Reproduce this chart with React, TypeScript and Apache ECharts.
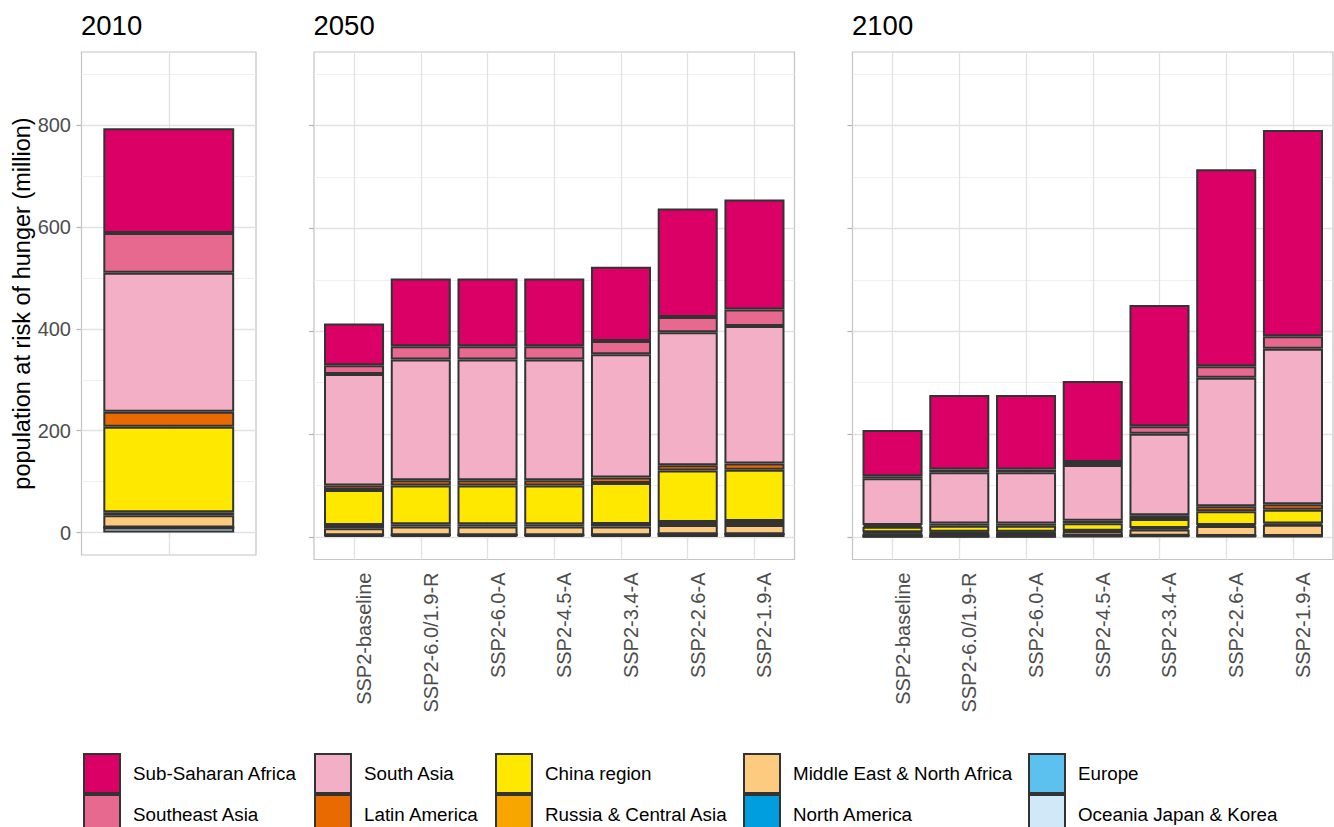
import React, { useEffect, useRef } from "react";
import * as echarts from "echarts";

// Regions in legend order (top of each stack first)
const regions = [
  "Sub-Saharan Africa",
  "Southeast Asia",
  "South Asia",
  "Latin America",
  "China region",
  "Russia & Central Asia",
  "Middle East & North Africa",
  "North America",
  "Europe",
  "Oceania Japan & Korea",
];
const regionColors = [
  "#DB0066",
  "#E8698F",
  "#F2AFC5",
  "#E86A00",
  "#FFE800",
  "#F7A600",
  "#FDCB80",
  "#009EDF",
  "#5CC1EE",
  "#D0E8F7",
];

const scenarios = [
  "SSP2-baseline",
  "SSP2-6.0/1.9-R",
  "SSP2-6.0-A",
  "SSP2-4.5-A",
  "SSP2-3.4-A",
  "SSP2-2.6-A",
  "SSP2-1.9-A",
];
const panelTitles = ["2010", "2050", "2100"];
const yMajorTicks = [0, 200, 400, 600, 800];
const yMinorTicks = [100, 300, 500, 700, 900];

// population at risk of hunger (million), 2010, in region order
const hunger2010 = [206, 78, 273, 29, 168, 6, 24, 0, 0, 10];

// 2050, one value per scenario
const ssa2050 = [81, 132, 132, 132, 144.5, 211, 214];
const sea2050 = [17, 26, 26, 26, 25.5, 30, 32];
const sa2050 = [217, 235, 235, 235, 240, 258.5, 267.5];
const la2050 = [9, 10, 10, 10, 10.5, 10.5, 12.5];
const china2050 = [68, 75.5, 75.5, 75.5, 80, 100, 99.5];
const russia2050 = [6, 4.5, 4.5, 4.5, 5, 6, 8];
const mena2050 = [14, 17, 17, 17, 17, 18, 18];
const nam2050 = [0, 0, 0, 0, 0, 0, 0];
const europe2050 = [0, 0, 0, 0, 0, 0, 0];
const ojk2050 = [3, 3, 3, 3, 3, 5, 5];

// 2100, one value per scenario
const ssa2100 = [90, 145, 145, 158, 235.5, 383.5, 401];
const sea2100 = [4, 5, 5, 5.5, 15, 22.5, 24.5];
const sa2100 = [91, 100, 100, 108.5, 158.5, 250, 302.5];
const la2100 = [3.5, 4.5, 4.5, 5, 7, 9.5, 10.5];
const china2100 = [10.5, 11.5, 11.5, 14.5, 17.5, 27, 27];
const russia2100 = [2, 1.5, 1.5, 1.5, 3, 2, 2.5];
const mena2100 = [6, 7.5, 7.5, 9, 12.5, 19.5, 22];
const nam2100 = [0, 0, 0, 0, 0, 0, 0];
const europe2100 = [0, 0, 0, 0, 0, 0, 0];
const ojk2100 = [1, 1, 1, 1.5, 2, 1.5, 1.5];

const FONT = "'Liberation Sans', Arial, Helvetica, sans-serif";

export default function App() {
  const ref = useRef<HTMLDivElement>(null);

  useEffect(() => {
    if (!ref.current) return;
    const chart = echarts.init(ref.current, null, { renderer: "svg" });

    const panelValues: number[][][] = [
      hunger2010.map((v) => [v]),
      [ssa2050, sea2050, sa2050, la2050, china2050, russia2050, mena2050, nam2050, europe2050, ojk2050],
      [ssa2100, sea2100, sa2100, la2100, china2100, russia2100, mena2100, nam2100, europe2100, ojk2100],
    ];
    const panelCategories = [["2010"], scenarios, scenarios];

    // panel boxes in px
    const panels = [
      { left: 81.5, right: 256, top: 52, bottom: 555 },
      { left: 314, right: 794.5, top: 52, bottom: 559.5 },
      { left: 852.5, right: 1333, top: 52, bottom: 559.5 },
    ];
    const yMin = -44;
    const yMax = 943.5;

    const gridColor = "#e2e2e2";
    const tickColor = "#b3b3b3";
    const textGrey = "#4d4d4d";

    const grids: any[] = [];
    const xAxes: any[] = [];
    const yAxes: any[] = [];
    const series: any[] = [];

    panels.forEach((p, pi) => {
      const cats = panelCategories[pi];
      const n = cats.length;
      const w = p.right - p.left;
      // discrete scale: 0.6 category units of padding at each end
      const unit = w / (n + 0.2);
      const outer = pi * 2;
      const inner = pi * 2 + 1;

      // outer frame: border, horizontal grid lines, y ticks and labels
      grids.push({
        left: p.left,
        top: p.top,
        width: w,
        height: p.bottom - p.top,
        show: true,
        borderColor: "#c4c4c4",
        borderWidth: 1.2,
        backgroundColor: "rgba(0,0,0,0)",
      });
      // inner area holding the bars, one band per category
      grids.push({
        left: p.left + unit * 0.1,
        top: p.top,
        width: w - unit * 0.2,
        height: p.bottom - p.top,
        show: false,
      });

      xAxes.push({
        type: "value",
        gridIndex: outer,
        min: 0,
        max: 1,
        show: false,
      });
      xAxes.push({
        type: "category",
        gridIndex: inner,
        data: cats,
        boundaryGap: true,
        axisLine: { show: false },
        splitLine: { show: false },
        axisTick: {
          show: true,
          alignWithLabel: true,
          interval: 0,
          length: 5,
          lineStyle: { color: tickColor, width: 1.2 },
        },
        axisLabel: {
          show: pi > 0,
          interval: 0,
          rotate: 90,
          margin: 13,
          verticalAlign: "top",
          lineHeight: 20,
          color: textGrey,
          fontSize: 20,
          fontFamily: FONT,
        },
      });

      yAxes.push({
        type: "value",
        gridIndex: outer,
        min: yMin,
        max: yMax,
        axisLine: { show: false },
        splitLine: { show: false },
        axisTick: {
          show: true,
          length: 5,
          customValues: yMajorTicks,
          lineStyle: { color: tickColor, width: 1.2 },
        },
        axisLabel: {
          show: pi === 0,
          customValues: yMajorTicks,
          color: textGrey,
          fontSize: 20,
          margin: 10.5,
          fontFamily: FONT,
        },
        name: pi === 0 ? "population at risk of hunger (million)" : "",
        nameLocation: "middle",
        nameGap: 47,
        nameTextStyle: { fontSize: 23.5, color: "#000", fontFamily: FONT },
      });
      yAxes.push({
        type: "value",
        gridIndex: inner,
        min: yMin,
        max: yMax,
        show: false,
      });

      // horizontal grid lines across the whole panel
      const hLines: any[] = [];
      yMinorTicks.forEach((v) =>
        hLines.push({ yAxis: v, lineStyle: { color: "#ebebeb", width: 0.8, type: "solid" } })
      );
      yMajorTicks.forEach((v) =>
        hLines.push({ yAxis: v, lineStyle: { color: gridColor, width: 1.3, type: "solid" } })
      );
      series.push({
        type: "line",
        name: "grid" + pi,
        xAxisIndex: outer,
        yAxisIndex: outer,
        data: [],
        silent: true,
        markLine: {
          silent: true,
          symbol: "none",
          z: 1,
          label: { show: false },
          emphasis: { disabled: true },
          data: hLines,
        },
      });

      // stacked bars, bottom of the stack first
      for (let r = regions.length - 1; r >= 0; r--) {
        const s: any = {
          type: "bar",
          name: regions[r],
          xAxisIndex: inner,
          yAxisIndex: inner,
          stack: "panel" + pi,
          barWidth: "90%",
          itemStyle: { color: regionColors[r], borderColor: "#333333", borderWidth: 2 },
          emphasis: { disabled: true },
          data: panelValues[pi][r],
        };
        if (r === regions.length - 1) {
          s.markLine = {
            silent: true,
            symbol: "none",
            z: 1,
            label: { show: false },
            emphasis: { disabled: true },
            data: cats.map((_, i) => ({
              xAxis: i,
              lineStyle: { color: gridColor, width: 1.3, type: "solid" },
            })),
          };
        }
        series.push(s);
      }
    });

    const titles = panels.map((p, pi) => ({
      text: panelTitles[pi],
      left: p.left - 0.5,
      top: 11,
      padding: 0,
      textStyle: { fontSize: 27.5, fontWeight: "normal", color: "#000", fontFamily: FONT },
    }));

    // legend laid out in five columns of two keys each
    const legendLefts = [83, 314, 495, 743, 1028];
    const legends = legendLefts.map((left, ci) => ({
      orient: "vertical",
      left,
      top: 753,
      height: 120,
      padding: 0,
      itemGap: 0,
      itemWidth: 36,
      itemHeight: 39,
      icon: "rect",
      selectedMode: false,
      data: [regions[ci * 2], regions[ci * 2 + 1]],
      itemStyle: { borderColor: "#333333", borderWidth: 2 },
      textStyle: { fontSize: 18.8, color: "#000", fontFamily: FONT, padding: [0, 0, 0, 8] },
    }));

    chart.setOption({
      animation: false,
      backgroundColor: "#ffffff",
      textStyle: { fontFamily: FONT },
      title: titles,
      legend: legends,
      grid: grids,
      xAxis: xAxes,
      yAxis: yAxes,
      series,
    });

    return () => chart.dispose();
  }, []);

  return (
    <div
      ref={ref}
      style={{ position: "fixed", left: 0, top: 0, width: 1334, height: 827, background: "#fff" }}
    />
  );
}
